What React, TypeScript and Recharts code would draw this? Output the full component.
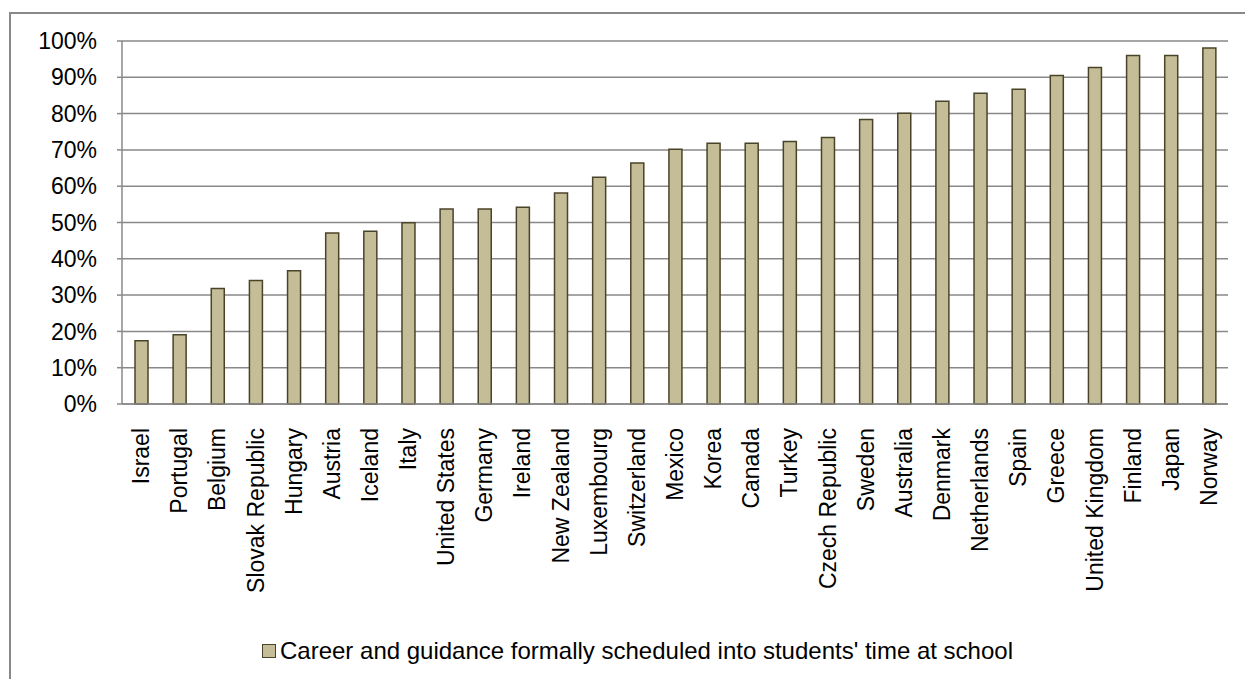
import { BarChart, Bar, XAxis, YAxis, CartesianGrid, Legend } from 'recharts'

const countries = [
  'Israel', 'Portugal', 'Belgium', 'Slovak Republic', 'Hungary', 'Austria', 'Iceland', 'Italy',
  'United States', 'Germany', 'Ireland', 'New Zealand', 'Luxembourg', 'Switzerland', 'Mexico',
  'Korea', 'Canada', 'Turkey', 'Czech Republic', 'Sweden', 'Australia', 'Denmark', 'Netherlands',
  'Spain', 'Greece', 'United Kingdom', 'Finland', 'Japan', 'Norway',
]

// share of schools (%)
const scheduledShare = [
  17.4, 19.1, 31.8, 34.0, 36.7, 47.1, 47.6, 49.9,
  53.7, 53.7, 54.2, 58.1, 62.5, 66.4, 70.2,
  71.8, 71.8, 72.3, 73.4, 78.4, 80.1, 83.4, 85.6,
  86.7, 90.5, 92.7, 96.0, 96.0, 98.1,
]

const yTicks = [0, 10, 20, 30, 40, 50, 60, 70, 80, 90, 100]
// category boundaries for the Excel-style tick marks
const edgeTicks = [...countries.map((_, i) => i), countries.length]

const seriesName = "Career and guidance formally scheduled into students' time at school"

const data = countries.map((country, i) => ({ country, share: scheduledShare[i] }))

const FONT = '"Liberation Sans", Arial, sans-serif'
const GRID = '#898989'

function CountryTick({ x, y, payload }: any) {
  return (
    <text
      x={x}
      y={y}
      transform={`rotate(-90, ${x}, ${y})`}
      textAnchor="end"
      dy="0.35em"
      fontSize={23}
      fontFamily={FONT}
      fill="#000"
    >
      {payload.value}
    </text>
  )
}

function LegendBox({ payload }: any) {
  return (
    <div style={{ display: 'flex', alignItems: 'center', fontFamily: FONT, fontSize: 24, color: '#000', whiteSpace: 'nowrap' }}>
      {(payload || []).map((p: any) => (
        <div key={p.value} style={{ display: 'flex', alignItems: 'center' }}>
          <span style={{ width: 12, height: 12, background: '#C4BD97', border: '1.5px solid #494429', marginRight: 4 }} />
          <span>{p.value}</span>
        </div>
      ))}
    </div>
  )
}

export default function App() {
  return (
    <div style={{ position: 'relative', width: 1245, height: 679, overflow: 'hidden', background: '#fff' }}>
      <style>{'body{margin:0}'}</style>
      <div
        style={{
          position: 'absolute', left: 9, top: 12, width: 1260, height: 700,
          borderLeft: `2px solid ${GRID}`, borderTop: `2px solid ${GRID}`,
        }}
      />
      <div style={{ position: 'absolute', left: 0, top: 0 }}>
        <BarChart
          width={1245}
          height={679}
          data={data}
          margin={{ top: 41, right: 17, bottom: 67, left: 0 }}
        >
          <CartesianGrid vertical={false} stroke={GRID} strokeWidth={1.5} />
          <XAxis
            xAxisId="b"
            dataKey="country"
            interval={0}
            height={200}
            tickSize={0}
            tickMargin={16}
            axisLine={false}
            tickLine={false}
            tick={<CountryTick />}
          />
          <XAxis
            xAxisId="a"
            type="number"
            domain={[0, countries.length]}
            ticks={edgeTicks}
            tick={false}
            tickSize={8}
            height={8}
            axisLine={{ stroke: GRID, strokeWidth: 1.5 }}
            tickLine={{ stroke: GRID, strokeWidth: 1.5 }}
            allowDataOverflow
          />
          <YAxis
            width={122}
            domain={[0, 100]}
            ticks={yTicks}
            tickFormatter={(v) => `${v}%`}
            tickSize={5}
            tickMargin={20}
            axisLine={{ stroke: GRID, strokeWidth: 1.5 }}
            tickLine={{ stroke: GRID, strokeWidth: 1.5 }}
            tick={{ fontSize: 23, fontFamily: FONT, fill: '#000' }}
          />
          <Legend
            content={<LegendBox />}
            wrapperStyle={{ top: 637, left: 262, height: 0, width: 'auto', bottom: 'auto' }}
          />
          <Bar
            xAxisId="b"
            dataKey="share"
            name={seriesName}
            fill="#C4BD97"
            stroke="#494429"
            strokeWidth={1.5}
            barSize={13}
            isAnimationActive={false}
          />
        </BarChart>
      </div>
    </div>
  )
}
